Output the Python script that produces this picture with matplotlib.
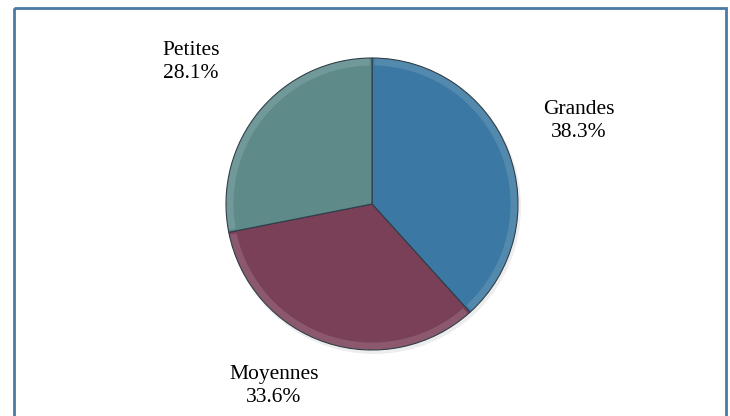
# pie chart of company sizes
import matplotlib
matplotlib.use('Agg')
import matplotlib.pyplot as plt
import matplotlib.patches as patches

labels = ['Grandes', 'Moyennes', 'Petites']
shares = [38.3, 33.6, 28.1]
colors = ['#3b78a3', '#7a4058', '#5e8a8a']
# label centres in pixel coords (x, y from top)
label_pos = [(579, 121), (274, 386), (191, 62)]

fig = plt.figure(figsize=(7.3, 4.16), dpi=100)
ax = fig.add_axes([0, 0, 1, 1])

# soft shadow under the pie
ax.add_patch(patches.Circle((374, 207), 147, facecolor='#000000', alpha=0.07,
                            edgecolor='none', zorder=0))

# y axis runs downward, so counterclock=True draws clockwise on screen
wedges, _ = ax.pie(shares, colors=colors, startangle=270, counterclock=True,
                   center=(372, 204), radius=146, frame=True,
                   wedgeprops=dict(edgecolor='#2e3d48', linewidth=0.8))

# light bevel rim along the outer arc of each slice
for w in wedges:
    ax.add_patch(patches.Arc(w.center, 2 * (w.r - 4), 2 * (w.r - 4),
                             theta1=w.theta1 + 1, theta2=w.theta2 - 1,
                             edgecolor='white', alpha=0.13, linewidth=5))

ax.set_xlim(0, 730)
ax.set_ylim(416, 0)
ax.set_aspect('equal')
ax.axis('off')

# outer frame
frame = patches.Rectangle((14, 8), 712, 420, fill=False, edgecolor='#4a7aa5',
                          linewidth=2, clip_on=False)
ax.add_patch(frame)

for name, val, (x, y) in zip(labels, shares, label_pos):
    ax.text(x, y, '{}\n{:.1f}%'.format(name, val), ha='center', va='center',
            fontsize=15.5, family='Liberation Serif', linespacing=1.3)

plt.savefig('out.png', dpi=100)
